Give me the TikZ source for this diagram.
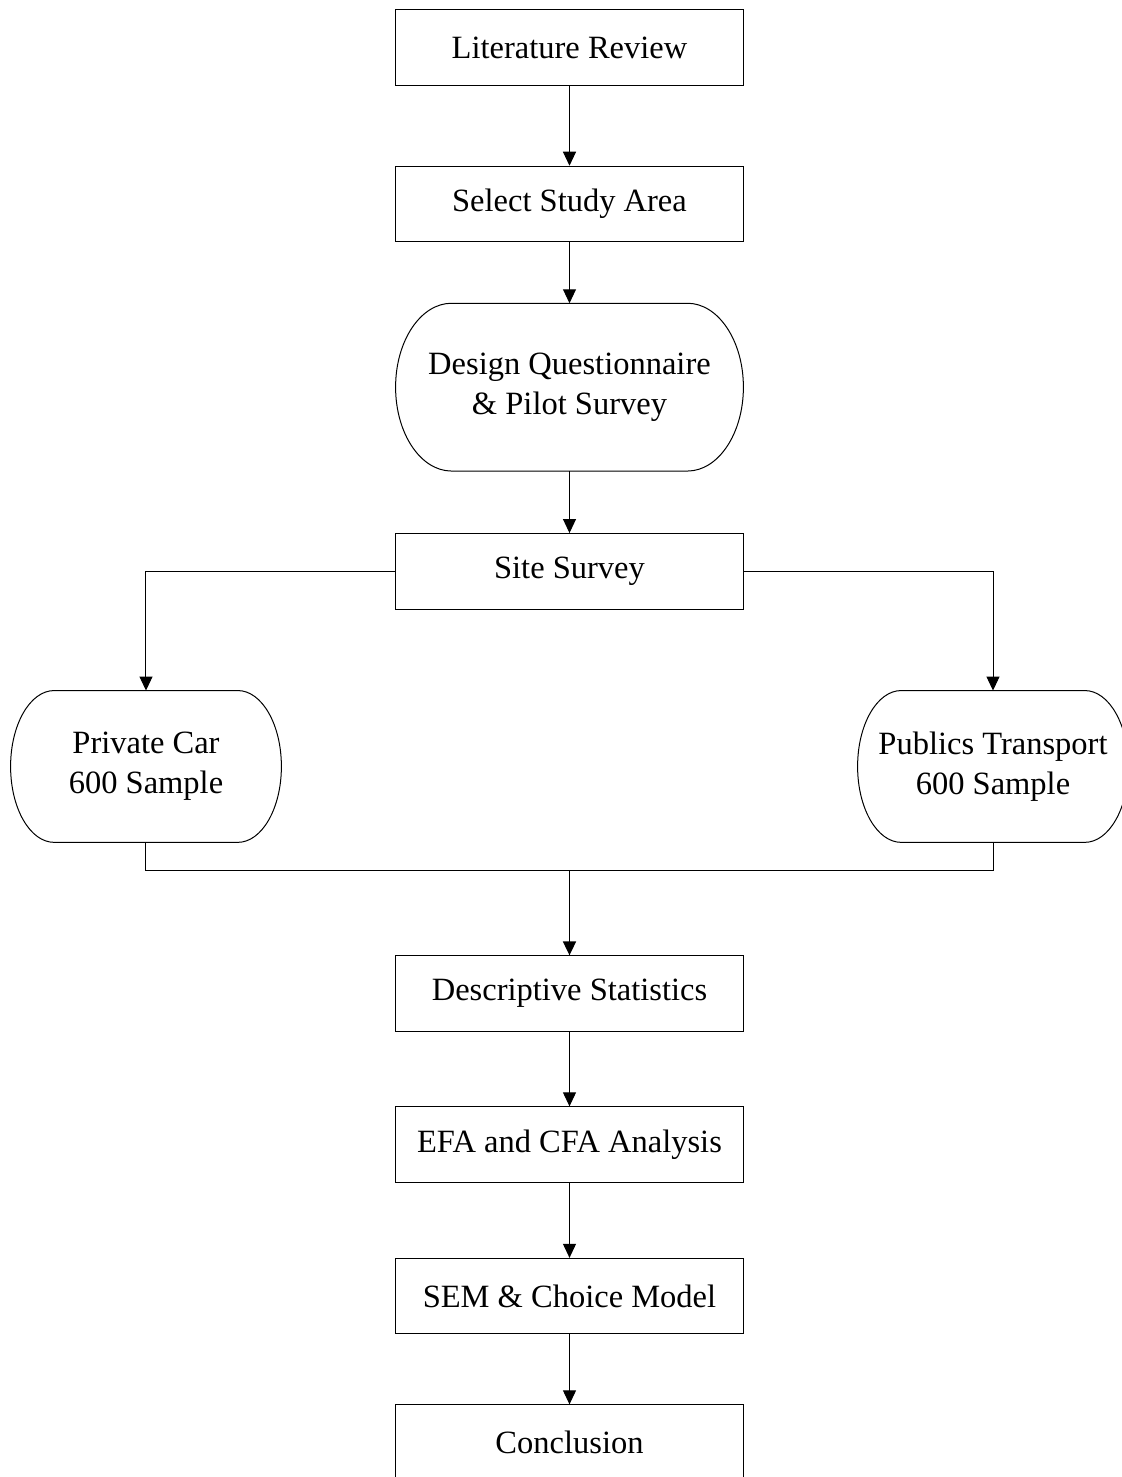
\documentclass[tikz,border=0pt]{standalone}
\usepackage{fontspec}
\setmainfont{Liberation Serif}
\usetikzlibrary{arrows.meta,positioning,calc}

% outline with elliptical ends drawn round a named node
\newcommand{\termshape}[1]{%
  \draw [line width=0.5pt] let \p1=(#1.north west), \p2=(#1.south east),
    \n1={0.161*(\x2-\x1)}, \n2={0.5*(\y1-\y2)} in
    (\x1+\n1,\y1) -- (\x2-\n1,\y1)
    arc [start angle=90, end angle=-90, x radius=\n1, y radius=\n2]
    -- (\x1+\n1,\y2)
    arc [start angle=270, end angle=90, x radius=\n1, y radius=\n2] -- cycle;}

\begin{document}
\begin{tikzpicture}[
    node distance=40pt,
    box/.style={rectangle, draw, line width=0.5pt, align=center, minimum width=173.5pt, minimum height=37.75pt, font=\fontsize{16.25}{20}\selectfont},
    term/.style={rectangle, align=center, inner sep=0pt, minimum width=135pt, minimum height=75.5pt, font=\fontsize{16.25}{20}\selectfont},
    arr/.style={-{Triangle[width=6.5pt,length=7pt]}, line width=0.5pt}
]
    \useasboundingbox (-284.75pt,23.75pt) rectangle (275.75pt,-714.75pt);

    \node [box] (lit) at (0,0) {Literature Review};
    \node [box, below=40pt of lit] (sel) {Select Study Area};
    \node [term, minimum width=173.5pt, minimum height=83.5pt, below=30.5pt of sel] (dq) {Design Questionnaire\\\& Pilot Survey};
    \node [box, below=31pt of dq] (site) {Site Survey};
    \node [term, below=40.5pt of site, xshift=-211.75pt] (pc) {Private Car\\600 Sample};
    \node [term, below=40.5pt of site, xshift=211.75pt] (pt) {Publics Transport\\600 Sample};
    \node [box, below=56.5pt of pc, xshift=211.75pt] (desc) {Descriptive Statistics};
    \node [box, below=37.25pt of desc] (efa) {EFA and CFA Analysis};
    \node [box, below=37.5pt of efa] (sem) {SEM \& Choice Model};
    \node [box, below=35pt of sem] (conc) {Conclusion};

    \termshape{dq}
    \termshape{pc}
    \termshape{pt}

    \draw [arr] (lit) -- (sel);
    \draw [arr] (sel) -- (dq);
    \draw [arr] (dq) -- (site);
    \draw [arr] (site.west) -| (pc.north);
    \draw [arr] (site.east) -| (pt.north);
    \coordinate (join) at ([yshift=-14.25pt]pc.south -| site.south);
    \draw [line width=0.5pt] (pc.south) |- (join) -| (pt.south);
    \draw [arr, line width=0.9pt] (join) -- (desc);
    \draw [arr] (desc) -- (efa);
    \draw [arr] (efa) -- (sem);
    \draw [arr] (sem) -- (conc);
\end{tikzpicture}
\end{document}
